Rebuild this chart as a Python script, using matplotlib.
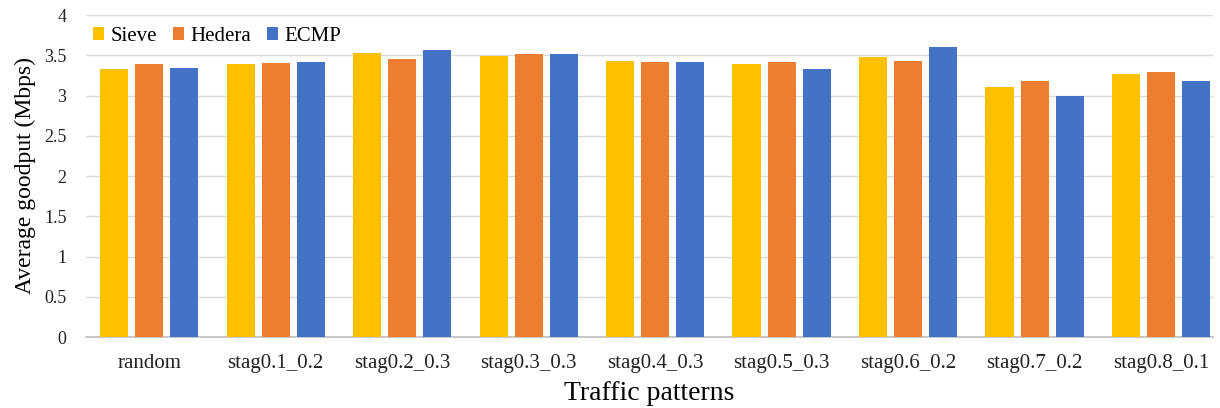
import matplotlib
matplotlib.use("Agg")
import matplotlib.pyplot as plt
import numpy as np

patrones = ["random", "stag0.1_0.2", "stag0.2_0.3", "stag0.3_0.3", "stag0.4_0.3",
            "stag0.5_0.3", "stag0.6_0.2", "stag0.7_0.2", "stag0.8_0.1"]
sieve = [3.33, 3.39, 3.53, 3.49, 3.43, 3.39, 3.48, 3.10, 3.27]
hedera = [3.39, 3.40, 3.45, 3.52, 3.41, 3.42, 3.43, 3.18, 3.29]
ecmp = [3.34, 3.42, 3.57, 3.51, 3.42, 3.33, 3.60, 2.99, 3.18]

series = [("Sieve", sieve, "#FFC000"), ("Hedera", hedera, "#ED7D31"), ("ECMP", ecmp, "#4472C4")]
yticks = [0, 0.5, 1, 1.5, 2, 2.5, 3, 3.5, 4]
ytick_labels = ["0", "0.5", "1", "1.5", "2", "2.5", "3", "3.5", "4"]

plt.rcParams['font.family'] = ['Liberation Serif', 'DejaVu Serif']

fig = plt.figure(figsize=(12.2, 4.08), dpi=100)
ax = fig.add_axes([86 / 1220, (408 - 337) / 408, (1213 - 86) / 1220, (337 - 15) / 408])

x = np.arange(len(patrones))
ancho = 0.222
paso = 0.278
for i, (nombre, vals, color) in enumerate(series):
    ax.bar(x + (i - 1) * paso, vals, ancho, color=color, label=nombre, zorder=3)

ax.set_xlim(-0.5, 8.41)
ax.set_ylim(0, 4)
ax.set_yticks(yticks)
ax.set_yticklabels(ytick_labels)
ax.set_xticks(x)
ax.set_xticklabels(patrones)
ax.tick_params(axis="both", length=0, colors="#222222")
ax.tick_params(axis="x", pad=12, labelsize=15)
ax.tick_params(axis="y", pad=14, labelsize=13)
ax.grid(axis="y", color="#D9D9D9", linewidth=1, zorder=0)
for s in ["top", "right", "left"]:
    ax.spines[s].set_visible(False)
ax.spines["bottom"].set_color("#BFBFBF")
ax.spines["bottom"].set_linewidth(1.2)

ax.set_xlabel("Traffic patterns", fontsize=20, labelpad=6)
ax.set_ylabel("Average goodput (Mbps)", fontsize=17, labelpad=6)

ax.legend(loc="upper left", bbox_to_anchor=(-0.006, 1.005), ncol=3, frameon=False,
          fontsize=15, handlelength=0.55, handleheight=0.55, handletextpad=0.3,
          columnspacing=0.75, borderaxespad=0.3, borderpad=0.35)

fig.savefig("out.png", dpi=100)
plt.close()
